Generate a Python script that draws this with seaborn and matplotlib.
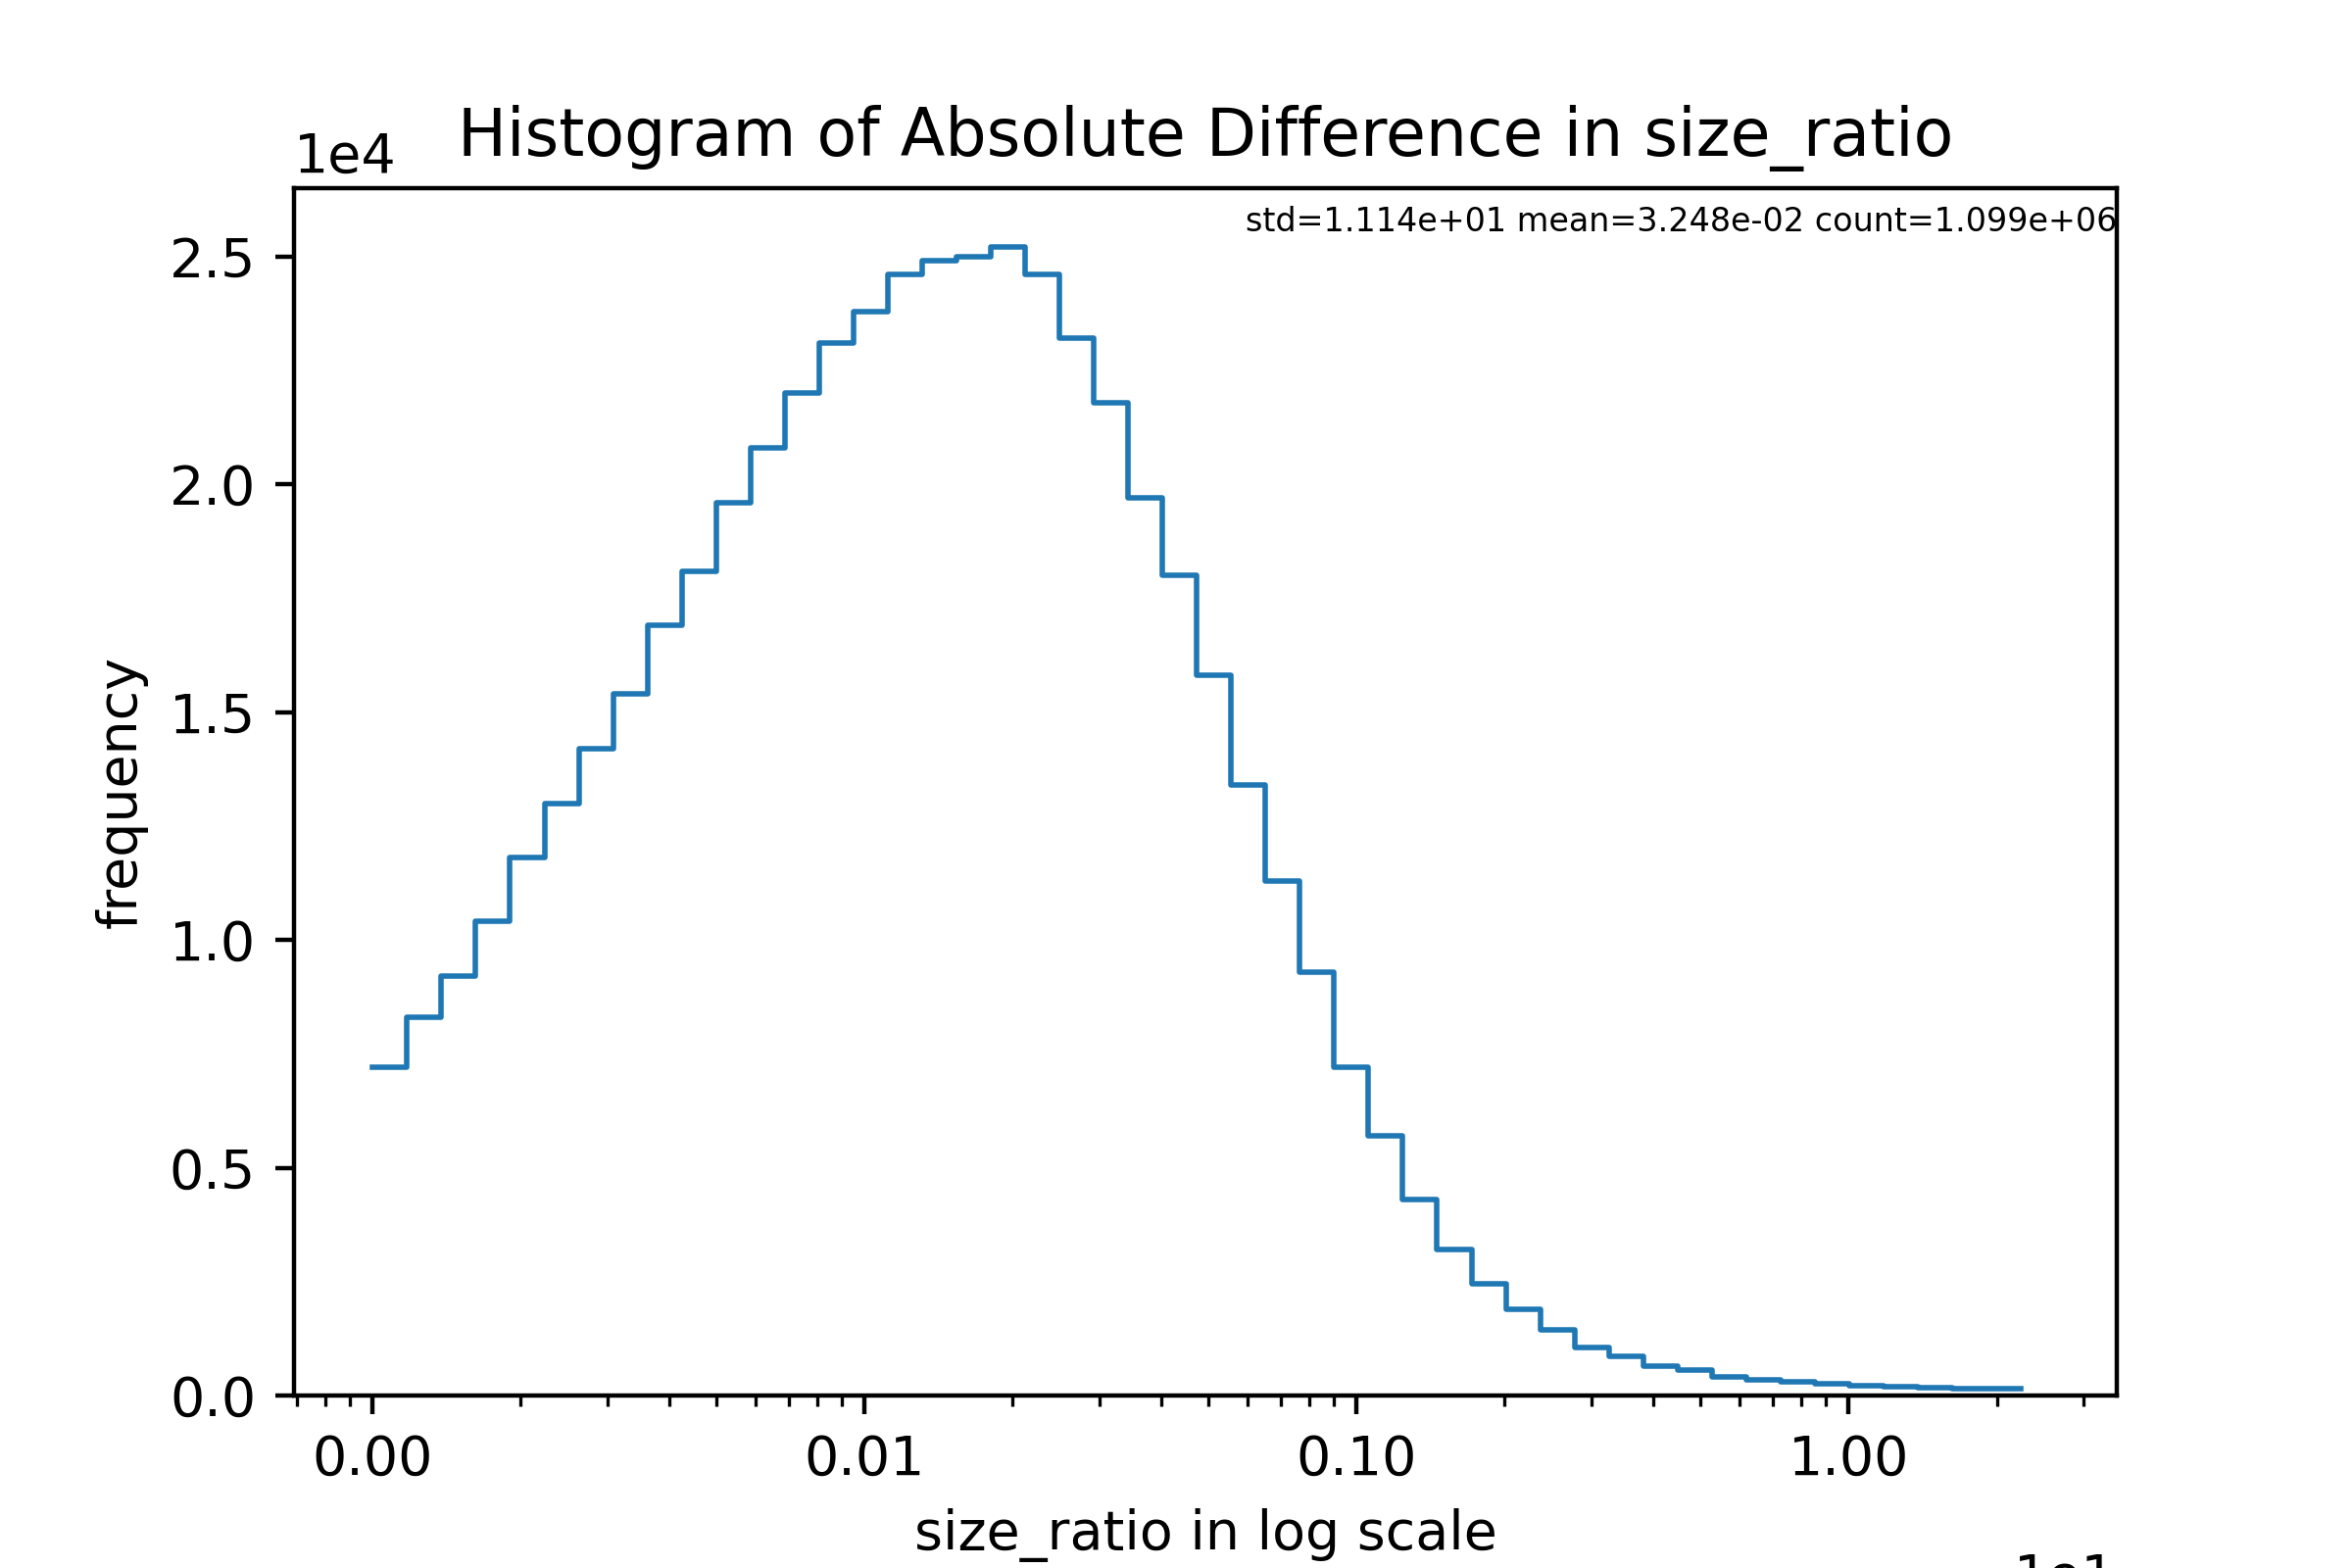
import matplotlib
matplotlib.use("Agg")
import matplotlib.pyplot as plt
import seaborn as sns
import numpy as np
import pandas as pd

# bin counts (48 log-spaced bins)
counts = [7200, 8300, 9200, 10400, 11800, 13000, 14200, 15400, 16900, 18100,
          19600, 20800, 22000, 23100, 23800, 24600, 24900, 25000, 25200, 24600,
          23200, 21800, 19700, 18000, 15800, 13400, 11300, 9300, 7200, 5700,
          4300, 3200, 2450, 1900, 1450, 1050, 850, 650, 550, 400,
          350, 300, 250, 220, 200, 170, 160, 150]
log_lo, log_hi = -3.0, 0.35
tick_vals = [1e-3, 1e-2, 1e-1, 1e0]
tick_labels = ["0.00", "0.01", "0.10", "1.00"]
stats_text = "std=1.114e+01 mean=3.248e-02 count=1.099e+06"

n = len(counts)
step = (log_hi - log_lo) / n
centers = 10 ** (log_lo + step * (np.arange(n) + 0.5))
df = pd.DataFrame({"ratio": centers, "w": counts})

fig, ax = plt.subplots(figsize=(6, 4), dpi=400)
sns.histplot(data=df, x="ratio", weights="w", bins=n, binrange=(log_lo, log_hi),
             log_scale=True, element="step", fill=False,
             color="tab:blue", linewidth=1, ax=ax)
ax.set_xlim(10 ** -3.16, 10 ** 0.545)
ax.set_xticks(tick_vals)
ax.set_xticklabels(tick_labels)
ax.text(1.0, -0.13, "1e1", transform=ax.transAxes, ha="right", va="top", fontsize=10)
ax.ticklabel_format(axis="y", style="sci", scilimits=(0, 0))
ax.set_ylim(0, 26500)
ax.set_yticks([0, 5000, 10000, 15000, 20000, 25000])
ax.set_xlabel("size_ratio in log scale")
ax.set_ylabel("frequency")
ax.set_title("Histogram of Absolute Difference in size_ratio")
ax.text(1.0, 0.985, stats_text, transform=ax.transAxes, ha="right", va="top", fontsize=6)
fig.savefig("out.png", dpi=400)
